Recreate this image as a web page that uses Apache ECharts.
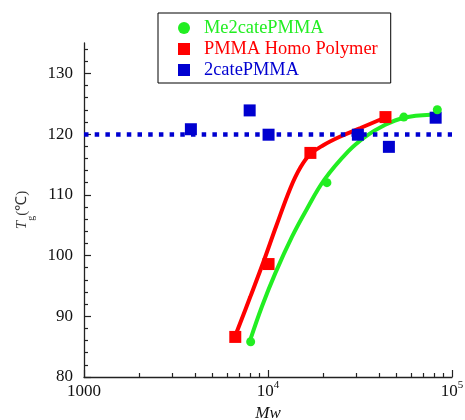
<!DOCTYPE html>
<html>
<head>
<meta charset="utf-8">
<script src="https://cdn.jsdelivr.net/npm/echarts@6/dist/echarts.min.js"></script>
<style>html,body{margin:0;padding:0;background:#fff;}#c{width:465px;height:420px;}</style>
</head>
<body>
<div id="c"></div>
<script>
// ---- data ----
const greenName = 'Me2catePMMA';
const redName = 'PMMA Homo Polymer';
const blueName = '2catePMMA';

const greenMw = [8050, 20900, 54700, 83200];
const greenTg = [85.8, 112.0, 122.8, 124.0];
const redMw = [6640, 10070, 17000, 43500];
const redTg = [86.6, 98.6, 116.9, 122.8];
const blueMw = [3810, 7950, 10070, 30800, 45400, 81500];
const blueTg = [120.8, 123.9, 119.9, 119.9, 117.9, 122.7];
const blueRefTg = 120;

// fitted curves as drawn in the reference
const redCurveMw = [6720, 8010, 9430, 11100, 13230, 14990, 16990, 20080, 24750, 31800, 40860, 44890];
const redCurveTg = [87.2, 93.2, 98.9, 104.9, 111.1, 114.5, 116.7, 118.2, 119.6, 121.0, 122.4, 122.9];
const greenCurveMw = [8010, 9270, 10960, 13510, 16160, 20250, 27360, 33860, 41900, 54720, 76460];
const greenCurveTg = [86.1, 91.6, 97.1, 103.1, 107.5, 112.5, 117.2, 119.6, 121.3, 122.7, 123.2];

const xMajorTicks = [1000, 10000, 100000];
const xMinorTicks = [2000, 3000, 4000, 5000, 6000, 7000, 8000, 9000,
                     20000, 30000, 40000, 50000, 60000, 70000, 80000, 90000];
const yMajorTicks = [80, 90, 100, 110, 120, 130];
const yMinorTicks = [82, 84, 86, 88, 92, 94, 96, 98, 102, 104, 106, 108,
                     112, 114, 116, 118, 122, 124, 126, 128, 132, 134];

const zip = (a, b) => a.map((v, i) => [v, b[i]]);

const GREEN = '#22ee22', RED = '#ff0000', BLUE = '#0000d0';
const AX = '#222';
const SERIF = 'Liberation Serif';

const chart = echarts.init(document.getElementById('c'), null, {renderer: 'canvas'});
const xLab = v => {
  if (v === 1000) return '{b|1000}';
  const e = Math.round(Math.log10(v));
  return '{b|10}{s|' + e + '}';
};
chart.setOption({
  animation: false,
  backgroundColor: '#fff',
  textStyle: {fontFamily: SERIF},
  grid: {left: 84, right: 13, top: 43, bottom: 43, containLabel: false, outerBoundsMode: 'none'},
  legend: {
    orient: 'vertical', left: 158, top: 13,
    padding: [6, 13, 4, 20],
    borderColor: '#000', borderWidth: 1,
    itemWidth: 12, itemHeight: 12, itemGap: 3,
    textStyle: {fontFamily: SERIF, fontSize: 18.4, padding: [0, 0, 0, 9]},
    data: [
      {name: greenName, icon: 'circle', textStyle: {color: GREEN}},
      {name: redName, icon: 'rect', textStyle: {color: RED}},
      {name: blueName, icon: 'rect', textStyle: {color: BLUE}}
    ]
  },
  xAxis: [
    {
      type: 'log', logBase: 10, min: 1000, max: 100000, splitLine: {show: false},
      position: 'bottom',
      name: 'Mw', nameLocation: 'middle', nameGap: 28,
      nameTextStyle: {fontFamily: SERIF, fontSize: 17, fontStyle: 'italic', color: '#111'},
      axisLine: {show: true, lineStyle: {color: AX, width: 1.3}},
      axisTick: {show: true, inside: true, length: 7, lineStyle: {color: AX, width: 1.2}, customValues: xMajorTicks},
      axisLabel: {
        show: true, margin: 3, customValues: xMajorTicks, showMinLabel: true, showMaxLabel: true,
        formatter: xLab, color: '#111', fontFamily: SERIF,
        rich: {
          b: {fontFamily: SERIF, fontSize: 17, color: '#111', lineHeight: 20, verticalAlign: 'bottom'},
          s: {fontFamily: SERIF, fontSize: 11, color: '#111', lineHeight: 20, verticalAlign: 'top', padding: [0, 0, 6, 0]}
        }
      }
    },
    {
      type: 'log', logBase: 10, min: 1000, max: 100000, splitLine: {show: false},
      position: 'bottom',
      axisLine: {show: false},
      axisTick: {show: true, inside: true, length: 4, lineStyle: {color: AX, width: 1.2}, customValues: xMinorTicks},
      axisLabel: {show: false, formatter: () => ''}
    }
  ],
  yAxis: [
    {
      type: 'value', min: 80, max: 135, splitLine: {show: false},
      position: 'left',
      name: '{t|T}{g|g}{n|(℃)}', nameLocation: 'middle', nameGap: 46, nameRotate: 90,
      nameTextStyle: {
        color: '#333',
        rich: {
          t: {fontFamily: SERIF, fontSize: 15, fontStyle: 'italic', color: '#333', lineHeight: 18, verticalAlign: 'top'},
          g: {fontFamily: SERIF, fontSize: 10, color: '#333', lineHeight: 18, verticalAlign: 'bottom', padding: [0, 0, -4, 0]},
          n: {fontFamily: SERIF, fontSize: 15, color: '#333', lineHeight: 18, verticalAlign: 'top'}
        }
      },
      axisLine: {show: true, lineStyle: {color: AX, width: 1.3}},
      axisTick: {show: true, inside: true, length: 7, lineStyle: {color: AX, width: 1.2}, customValues: yMajorTicks},
      axisLabel: {
        show: true, margin: 11, customValues: yMajorTicks,
        color: '#111', fontFamily: SERIF, fontSize: 17,
        formatter: v => '{v|' + v + '}',
        rich: {v: {color: '#111', fontFamily: SERIF, fontSize: 17}}
      }
    },
    {
      type: 'value', min: 80, max: 135, splitLine: {show: false},
      position: 'left',
      axisLine: {show: false},
      axisTick: {show: true, inside: true, length: 4, lineStyle: {color: AX, width: 1.2}, customValues: yMinorTicks},
      axisLabel: {show: false, formatter: () => ''}
    }
  ],
  series: [
    {
      name: 'greenFit', type: 'line', xAxisIndex: 0, yAxisIndex: 0,
      data: zip(greenCurveMw, greenCurveTg), smooth: 0.4, symbol: 'none',
      lineStyle: {color: GREEN, width: 4}, z: 3, silent: true
    },
    {
      name: 'redFit', type: 'line', xAxisIndex: 0, yAxisIndex: 0,
      data: zip(redCurveMw, redCurveTg), smooth: 0.4, symbol: 'none',
      lineStyle: {color: RED, width: 4}, z: 3, silent: true
    },
    {
      name: blueName, type: 'scatter', xAxisIndex: 0, yAxisIndex: 0,
      data: zip(blueMw, blueTg), symbol: 'rect', symbolSize: 12,
      itemStyle: {color: BLUE, opacity: 1}, z: 4,
      markLine: {
        silent: true, symbol: ['none', 'none'], label: {show: false},
        lineStyle: {color: BLUE, width: 4.5, type: [4.5, 6.2], opacity: 1},
        data: [{yAxis: blueRefTg}]
      }
    },
    {
      name: redName, type: 'scatter', xAxisIndex: 0, yAxisIndex: 0,
      data: zip(redMw, redTg), symbol: 'rect', symbolSize: 12,
      itemStyle: {color: RED, opacity: 1}, z: 5
    },
    {
      name: greenName, type: 'scatter', xAxisIndex: 0, yAxisIndex: 0,
      data: zip(greenMw, greenTg), symbol: 'circle', symbolSize: 9,
      itemStyle: {color: GREEN, opacity: 1}, z: 5
    }
  ]
});
</script>
</body>
</html>
